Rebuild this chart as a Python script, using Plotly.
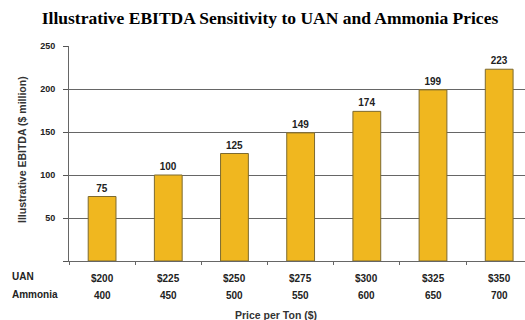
import plotly.graph_objects as go

uan_prices = ["$200", "$225", "$250", "$275", "$300", "$325", "$350"]
ammonia_prices = ["400", "450", "500", "550", "600", "650", "700"]
ebitda = [75, 100, 125, 149, 174, 199, 223]

x_idx = list(range(len(ebitda)))
font_sans = "Liberation Sans, Arial, sans-serif"

# plot area in pixels, used to place the row labels and axis titles
plot_left, plot_right, plot_top, plot_bottom = 69, 525, 46, 261


def px_x(px):
    return (px - plot_left) / (plot_right - plot_left)


def px_y(px):
    return (plot_bottom - px) / (plot_bottom - plot_top)


fig = go.Figure()
fig.add_trace(go.Bar(
    x=x_idx, y=ebitda, width=0.42,
    marker=dict(color="#F0B71F", line=dict(color="#7d6a30", width=1)),
    text=[str(v) for v in ebitda], textposition="outside",
    textfont=dict(family=font_sans, size=10, color="#222"),
    texttemplate="<b>%{text}</b>", cliponaxis=False,
))

label_font = dict(family=font_sans, size=10, color="#222")
annotations = []
for i, (u, a) in enumerate(zip(uan_prices, ammonia_prices)):
    annotations.append(dict(x=i, y=px_y(278), xref="x", yref="paper", text=f"<b>{u}</b>",
                            showarrow=False, font=label_font, yanchor="middle"))
    annotations.append(dict(x=i, y=px_y(295.5), xref="x", yref="paper", text=f"<b>{a}</b>",
                            showarrow=False, font=label_font, yanchor="middle"))
annotations += [
    dict(x=px_x(10), y=px_y(276), xref="paper", yref="paper", text="<b>UAN</b>",
         showarrow=False, xanchor="left", yanchor="middle", font=label_font),
    dict(x=px_x(10), y=px_y(294.5), xref="paper", yref="paper", text="<b>Ammonia</b>",
         showarrow=False, xanchor="left", yanchor="middle", font=label_font),
    dict(x=px_x(276), y=px_y(315), xref="paper", yref="paper", text="<b>Price per Ton ($)</b>",
         showarrow=False, yanchor="middle",
         font=dict(family=font_sans, size=10.5, color="#333")),
    dict(x=px_x(22), y=px_y(150), xref="paper", yref="paper",
         text="<b>Illustrative EBITDA ($ million)</b>",
         showarrow=False, textangle=-90, xanchor="center", yanchor="middle",
         font=dict(family=font_sans, size=10.5, color="#333")),
]

fig.update_layout(
    width=525, height=320,
    margin=dict(l=69, r=0, t=46, b=59),
    paper_bgcolor="white", plot_bgcolor="white",
    showlegend=False,
    title=dict(text="<b>Illustrative EBITDA Sensitivity to UAN and Ammonia Prices</b>",
               x=(270 / 525), xanchor="center", y=1 - 18 / 320, yanchor="middle",
               font=dict(family="Liberation Serif, Times New Roman, serif", size=17.5, color="#000")),
    xaxis=dict(range=[-0.5, 6.39], tickvals=[i - 0.5 for i in range(8)], ticktext=[""] * 8,
               ticks="outside", ticklen=3, tickcolor="#666", showgrid=False,
               showline=True, linecolor="#666", linewidth=1, zeroline=False, fixedrange=True),
    yaxis=dict(range=[0, 250], tickvals=[0, 50, 100, 150, 200, 250],
               ticktext=["", "<b>50</b>", "<b>100</b>", "<b>150</b>", "<b>200</b>", "<b>250</b>"],
               ticks="outside", ticklen=5, tickcolor="#555", ticklabelstandoff=6,
               tickfont=dict(family=font_sans, size=9, color="#222"),
               showgrid=True, gridcolor="#666", gridwidth=1,
               showline=True, linecolor="#666", linewidth=1, zeroline=False),
    annotations=annotations,
)

fig.write_html("out.html")
